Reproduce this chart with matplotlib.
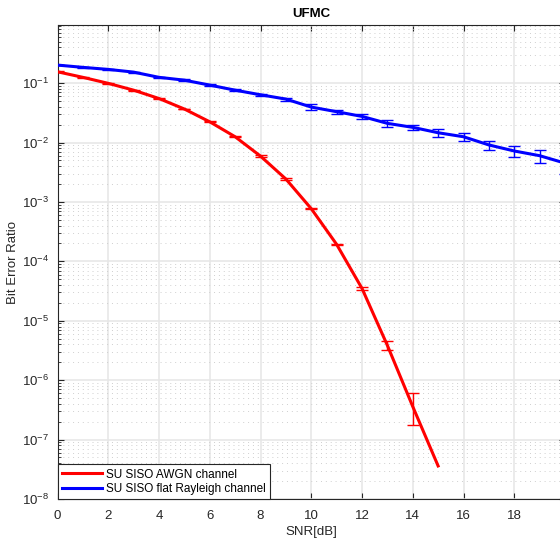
import numpy as np
import matplotlib.pyplot as plt
from matplotlib.lines import Line2D

plt.rcParams['font.family'] = ['Liberation Sans', 'DejaVu Sans']
plt.rcParams['mathtext.fontset'] = 'custom'
plt.rcParams['mathtext.rm'] = 'Liberation Sans'

# datos
snr_awgn = [0, 1, 2, 3, 4, 5, 6, 7, 8, 9, 10, 11, 12, 13, 14, 15]
ber_awgn = [0.155, 0.125, 0.099, 0.076, 0.055, 0.0366, 0.0223, 0.0125, 0.0059,
            0.00243, 7.7e-4, 1.93e-4, 3.5e-5, 3.85e-6, 3.6e-7, 3.6e-8]
err_awgn_lo = [0.002, 0.0015, 0.0012, 0.001, 0.0008, 0.0006, 0.0004, 0.0003, 0.00015,
               6e-5, 2e-5, 6e-6, 1.5e-6, 6.5e-7, 1.84e-7]
err_awgn_hi = [0.002, 0.0015, 0.0012, 0.001, 0.0008, 0.0006, 0.0004, 0.0003, 0.00015,
               6e-5, 2e-5, 6e-6, 1.5e-6, 7.5e-7, 2.6e-7]

snr_ray = [0, 1, 2, 3, 4, 5, 6, 7, 8, 9, 10, 11, 12, 13, 14, 15, 16, 17, 18, 19, 20]
ber_ray = [0.201, 0.184, 0.17, 0.153, 0.125, 0.112, 0.0925, 0.076, 0.0636, 0.0538,
           0.0395, 0.033, 0.0275, 0.021, 0.018, 0.0146, 0.0125, 0.0091, 0.0072, 0.006, 0.0045]
err_ray = [0.003, 0.003, 0.003, 0.003, 0.003, 0.003, 0.003, 0.003, 0.003, 0.003,
           0.0045, 0.0025, 0.0025, 0.0027, 0.002, 0.002, 0.002, 0.0016, 0.0015, 0.0015, 0.0015]

rojo = (1, 0, 0)
azul = (0, 0, 1)

fig = plt.figure(figsize=(5.6, 5.41), dpi=100)
ax = fig.add_axes([57.5/560, 42/541, 507.5/560, 474/541])

ax.plot(snr_awgn, ber_awgn, color=rojo, linewidth=2.2, zorder=3)
ax.errorbar(snr_awgn[:-1], ber_awgn[:-1], yerr=[err_awgn_lo, err_awgn_hi], fmt='none',
            ecolor=rojo, elinewidth=1, capsize=4, capthick=1, zorder=3)
ax.plot(snr_ray, ber_ray, color=azul, linewidth=2.2, zorder=3)
ax.errorbar(snr_ray, ber_ray, yerr=err_ray, fmt='none',
            ecolor=azul, elinewidth=1, capsize=4, capthick=1, zorder=3)

ax.set_yscale('log')
ax.set_xlim(0, 20)
ax.set_ylim(1e-8, 0.95)
ax.set_xticks(np.arange(0, 20, 2))
ax.set_yticks([10.0**k for k in range(-8, 0)])

ax.grid(True, which='major', color='#e6e6e6', linewidth=1.1, linestyle='-')
ax.grid(True, which='minor', axis='y', color='#cfcfcf', linewidth=0.7, linestyle=(0, (1, 4)))
ax.set_axisbelow(True)

ax.tick_params(which='both', direction='in', top=True, right=True, colors='#262626',
               labelsize=9.5)
ax.tick_params(which='major', length=4)
ax.tick_params(axis='x', which='major', pad=8)
ax.tick_params(axis='y', which='major', pad=6)
ax.tick_params(which='minor', length=2)
for s in ax.spines.values():
    s.set_color('#262626')
    s.set_linewidth(0.8)

ax.set_title('UFMC', fontsize=9.5, fontweight='bold', pad=6)
ax.set_xlabel('SNR[dB]', fontsize=9.5, color='#262626', labelpad=3)
ax.set_ylabel('Bit Error Ratio', fontsize=9.5, color='#262626', labelpad=2)

handles = [Line2D([], [], color=rojo, linewidth=2.2),
           Line2D([], [], color=azul, linewidth=2.2)]
leg = ax.legend(handles, ['SU SISO AWGN channel', 'SU SISO flat Rayleigh channel'],
                loc='lower left', fontsize=8.5, fancybox=False, edgecolor='#262626',
                framealpha=1, borderaxespad=0, handlelength=3.4, handletextpad=0.4,
                borderpad=0.35, labelspacing=0.2)
leg.get_frame().set_linewidth(0.8)

fig.savefig('out.png', dpi=100)
